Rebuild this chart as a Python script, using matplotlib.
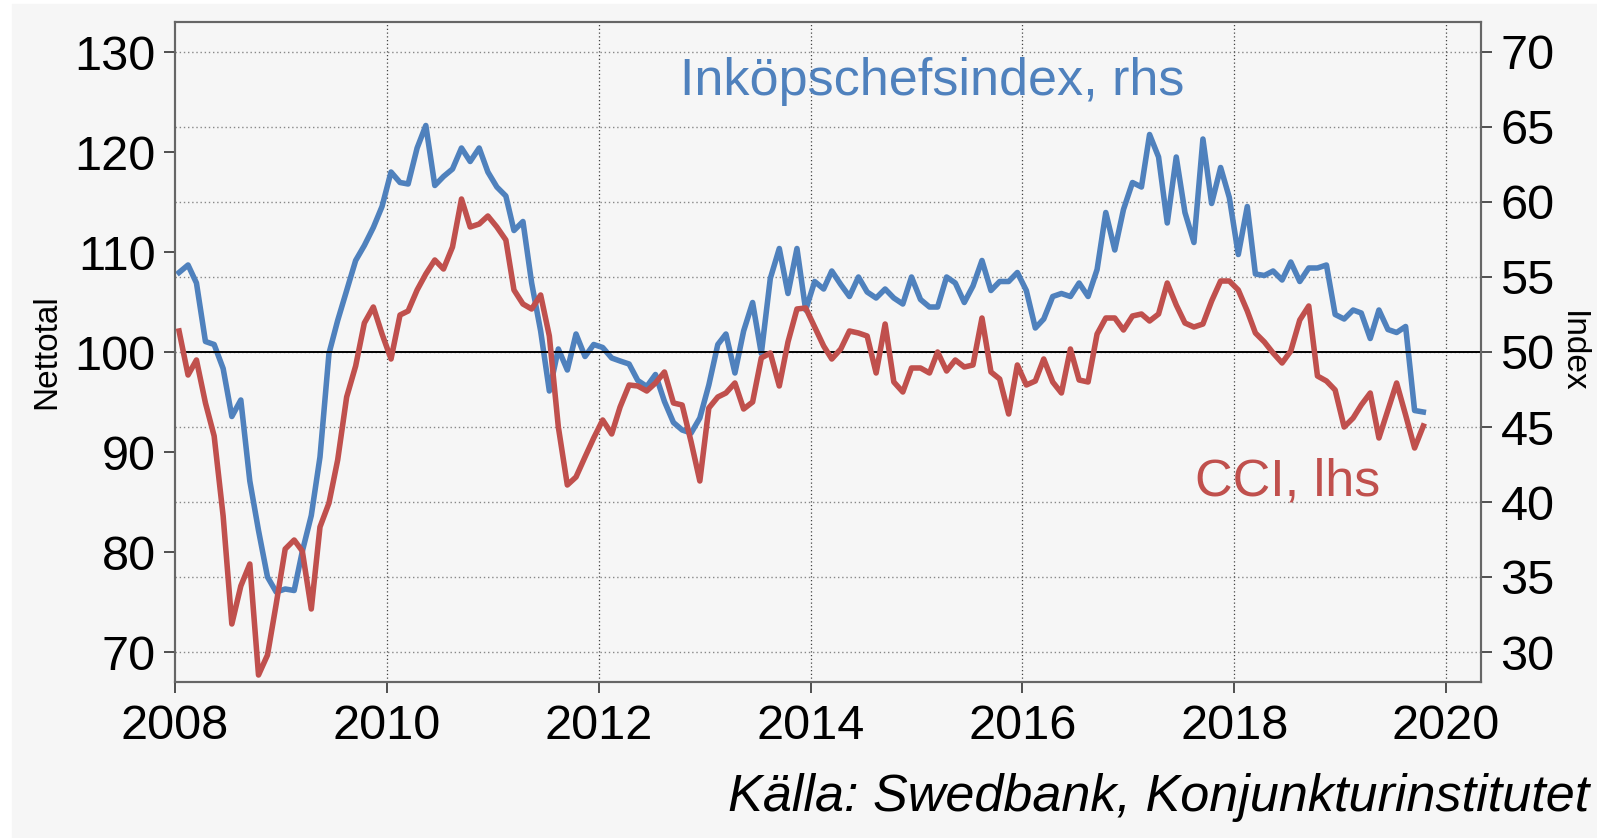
import numpy as np
import pandas as pd
import matplotlib
matplotlib.use("Agg")
import matplotlib.pyplot as plt
from matplotlib.patches import Rectangle

plt.rcParams["font.family"] = ["Liberation Sans", "DejaVu Sans"]

# Monthly data, Jan 2008 .. Oct 2019 (plotted mid-month)
months = pd.date_range("2008-01-01", periods=142, freq="MS") + pd.Timedelta(days=14)

# Inköpschefsindex (right axis)
pmi = [
    55.3, 55.8, 54.6, 50.7, 50.5, 48.9, 45.7, 46.8, 41.4, 38.1, 35.0, 34.0,
    34.2, 34.1, 36.7, 39.1, 43.0, 49.9, 52.1, 54.1, 56.1, 57.1, 58.3, 59.7,
    62.0, 61.3, 61.2, 63.6, 65.1, 61.1, 61.7, 62.2, 63.6, 62.7, 63.6, 62.0,
    61.0, 60.4, 58.1, 58.7, 54.6, 51.4, 47.4, 50.2, 48.8, 51.2, 49.7, 50.5,
    50.3, 49.6, 49.4, 49.2, 48.1, 47.7, 48.5, 46.7, 45.3, 44.8, 44.6, 45.6,
    47.8, 50.5, 51.2, 48.6, 51.4, 53.3, 49.9, 54.9, 56.9, 53.9, 56.9, 52.8,
    54.7, 54.2, 55.4, 54.5, 53.7, 55.0, 54.0, 53.6, 54.2, 53.6, 53.2, 55.0,
    53.5, 53.0, 53.0, 55.0, 54.6, 53.3, 54.4, 56.1, 54.1, 54.7, 54.7, 55.3,
    54.1, 51.6, 52.2, 53.7, 53.9, 53.7, 54.6, 53.7, 55.5, 59.3, 56.8, 59.5,
    61.3, 61.0, 64.5, 63.0, 58.6, 63.0, 59.3, 57.3, 64.2, 59.9, 62.3, 60.3,
    56.5, 59.7, 55.2, 55.1, 55.4, 54.8, 56.0, 54.7, 55.6, 55.6, 55.8, 52.5,
    52.2, 52.8, 52.6, 50.9, 52.8, 51.5, 51.3, 51.7, 46.1, 46.0,
]

# CCI, Konjunkturinstitutet (left axis)
cci = [
    102.1, 97.7, 99.2, 94.9, 91.6, 83.6, 72.8, 76.6, 78.8, 67.7, 69.7, 74.8,
    80.3, 81.2, 80.1, 74.3, 82.5, 84.9, 89.2, 95.5, 98.6, 102.9, 104.5, 101.8,
    99.3, 103.7, 104.1, 106.2, 107.8, 109.2, 108.3, 110.5, 115.3, 112.5, 112.8, 113.6,
    112.5, 111.2, 106.2, 104.8, 104.3, 105.7, 101.6, 92.5, 86.7, 87.5, 89.5, 91.4,
    93.2, 91.8, 94.5, 96.7, 96.6, 96.1, 96.9, 98.0, 94.9, 94.7, 91.0, 87.1,
    94.4, 95.5, 95.9, 96.9, 94.3, 95.0, 99.4, 99.9, 96.6, 101.0, 104.3, 104.4,
    102.5, 100.6, 99.3, 100.3, 102.1, 101.9, 101.6, 97.9, 102.8, 97.0, 96.0, 98.4,
    98.4, 97.9, 100.0, 98.1, 99.2, 98.5, 98.7, 103.4, 98.0, 97.3, 93.8, 98.7,
    96.7, 97.1, 99.3, 97.0, 95.9, 100.3, 97.2, 97.0, 101.8, 103.4, 103.4, 102.2,
    103.6, 103.8, 103.1, 103.8, 106.9, 104.7, 102.9, 102.5, 102.8, 105.1, 107.1, 107.1,
    106.2, 104.1, 101.9, 101.0, 99.9, 98.9, 100.1, 103.2, 104.6, 97.6, 97.1, 96.2,
    92.5, 93.4, 94.7, 95.9, 91.4, 94.2, 96.9, 93.7, 90.4, 92.6,
]

left_ticks = [70, 80, 90, 100, 110, 120, 130]
right_ticks = [30, 35, 40, 45, 50, 55, 60, 65, 70]
year_ticks = [2008, 2010, 2012, 2014, 2016, 2018, 2020]

BLUE = "#4f81bd"
RED = "#c0504d"
BG = "#f6f6f6"

fig = plt.figure(figsize=(15.97, 8.38), dpi=100)
fig.patch.set_facecolor("white")
fig.patches.append(Rectangle((12 / 1597, 0), 1, 1 - 4 / 838,
                             transform=fig.transFigure, color=BG, zorder=-10))

ax = fig.add_axes([175 / 1597, 1 - 682 / 838, (1481 - 175) / 1597, (682 - 22) / 838])
ax2 = ax.twinx()

xmin = pd.Timestamp("2008-01-01")
xmax = pd.Timestamp("2020-05-01")
ax.set_xlim(xmin, xmax)
ax.set_ylim(67, 133)
ax2.set_ylim(28, 72)

# grid follows the right axis
for v in right_ticks:
    ax2.axhline(v, color="#888888", lw=1.0, ls=(0, (1, 2)), zorder=0)
for y in year_ticks[1:]:
    ax2.axvline(pd.Timestamp(f"{y}-01-01"), color="#444444", lw=0.9,
                ls=(0, (1, 2)), zorder=0)

ax.plot([months[0] + pd.Timedelta(days=10), xmax], [100, 100],
        color="black", lw=1.4, zorder=2)

ax.plot(months, cci, color=RED, lw=4.0, zorder=3)
ax2.plot(months, pmi, color=BLUE, lw=4.0, zorder=3)
ax.set_zorder(ax2.get_zorder() + 1)
ax.patch.set_visible(False)
ax2.patch.set_facecolor(BG)

ax.set_yticks(left_ticks)
ax2.set_yticks(right_ticks)
ax.set_xticks([pd.Timestamp(f"{y}-01-01") for y in year_ticks])
ax.set_xticklabels([str(y) for y in year_ticks])

for a in (ax, ax2):
    a.tick_params(axis="both", labelsize=35, length=8, width=1.2,
                  direction="out", color="#333333")
    for s in a.spines.values():
        s.set_color("#666666")
        s.set_linewidth(1.5)
ax.tick_params(axis="x", pad=8)
ax.tick_params(axis="y", pad=6)
ax2.tick_params(axis="y", pad=6)

ax.set_ylabel("Nettotal", fontsize=24, va="center")
ax.yaxis.set_label_coords(-0.098, 0.5)
ax2.set_ylabel("Index", fontsize=24, rotation=270, va="center")
ax2.yaxis.set_label_coords(1.07, 0.5)

fig.text(680 / 1597, 1 - 81 / 838, "Inköpschefsindex, rhs", color=BLUE,
         fontsize=37.5, ha="left", va="center")
fig.text(1195 / 1597, 1 - 482 / 838, "CCI, lhs", color=RED,
         fontsize=37.5, ha="left", va="center")
fig.text(1589 / 1597, 1 - 797 / 838, "Källa: Swedbank, Konjunkturinstitutet",
         fontsize=37.5, style="italic", ha="right", va="center")

fig.savefig("out.png", dpi=100, facecolor=fig.get_facecolor())
